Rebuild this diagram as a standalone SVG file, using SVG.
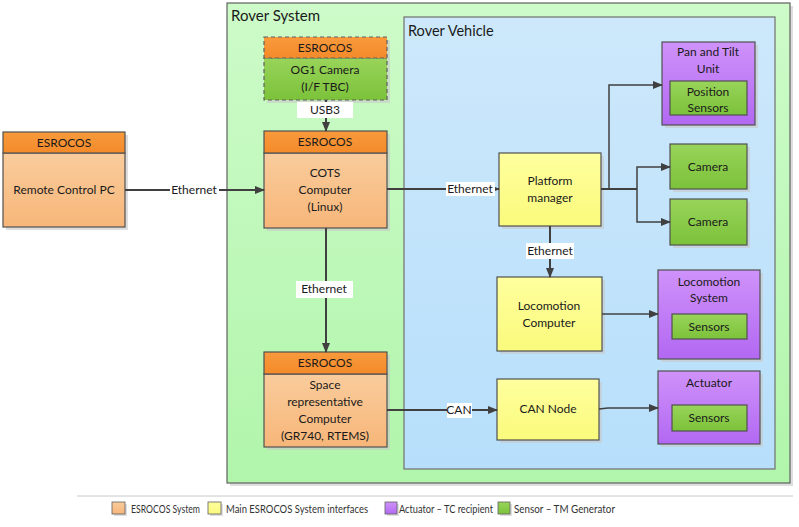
<svg xmlns="http://www.w3.org/2000/svg" width="799" height="527" viewBox="0 0 799 527">
<style>
text{font-family:Lato,"Liberation Sans",sans-serif;fill:#1a1a1a;text-anchor:middle}
.t{font-size:12px}
.title{font-size:15px;text-anchor:start}
.box{stroke:#505050;stroke-width:1.2}
.sh{fill:#c8c8c8;opacity:0.6}
.conn{stroke:#404040;stroke-width:2;fill:none}
.thin{stroke:#404040;stroke-width:1.5;fill:none}
.lbl{fill:#fff}
.leg{font-size:10.5px;text-anchor:start;fill:#333}
</style>
<defs>
<linearGradient id="gSys" x1="0" y1="0" x2="0" y2="1"><stop offset="0" stop-color="#cdfbc9"/><stop offset="1" stop-color="#b1f5ab"/></linearGradient>
<linearGradient id="gVeh" x1="0" y1="0" x2="0" y2="1"><stop offset="0" stop-color="#cde8fb"/><stop offset="1" stop-color="#b7dffb"/></linearGradient>
<linearGradient id="gHdr" x1="0" y1="0" x2="0" y2="1"><stop offset="0" stop-color="#f89a3c"/><stop offset="1" stop-color="#f48a2a"/></linearGradient>
<linearGradient id="gOr" x1="0" y1="0" x2="0" y2="1"><stop offset="0" stop-color="#f9cc9c"/><stop offset="1" stop-color="#f7b679"/></linearGradient>
<linearGradient id="gYe" x1="0" y1="0" x2="0" y2="1"><stop offset="0" stop-color="#ffff9e"/><stop offset="1" stop-color="#fafa7c"/></linearGradient>
<linearGradient id="gPu" x1="0" y1="0" x2="0" y2="1"><stop offset="0" stop-color="#cf92fa"/><stop offset="1" stop-color="#b268f2"/></linearGradient>
<linearGradient id="gGr" x1="0" y1="0" x2="0" y2="1"><stop offset="0" stop-color="#98d45a"/><stop offset="1" stop-color="#7cc23a"/></linearGradient>
<marker id="arr" markerWidth="10" markerHeight="10" refX="9" refY="5" orient="auto" markerUnits="userSpaceOnUse"><path d="M0,1 L10,5 L0,9 Z" fill="#404040"/></marker>
</defs>

<g id="rover-system">
<rect class="sh" x="230" y="6" width="563" height="480"/>
<rect x="227" y="3" width="563" height="480" fill="url(#gSys)" stroke="#606060" stroke-width="1.2"/>
<text class="title" x="231" y="21">Rover System</text>
</g>
<g id="rover-vehicle">
<rect x="404" y="17" width="371" height="452" fill="url(#gVeh)" stroke="#707070" stroke-width="1.2"/>
<text class="title" x="408" y="36" style="font-size:14.5px">Rover Vehicle</text>
</g>

<g id="remote-pc">
<rect class="sh" x="6" y="135" width="122" height="95"/>
<rect class="box" x="3" y="153" width="122" height="74" fill="url(#gOr)"/>
<rect class="box" x="3" y="132" width="122" height="21" fill="url(#gHdr)"/>
<text class="t" x="64" y="147">ESROCOS</text>
<text class="t" x="64" y="194">Remote Control PC</text>
</g>

<g id="og1-camera">
<rect class="sh" x="267" y="40" width="123" height="63"/>
<rect x="264" y="58" width="123" height="42" fill="url(#gGr)" stroke="#606060" stroke-width="1.2" stroke-dasharray="4,3"/>
<rect x="264" y="37" width="123" height="21" fill="url(#gHdr)" stroke="#606060" stroke-width="1.2" stroke-dasharray="4,3"/>
<text class="t" x="325" y="52">ESROCOS</text>
<text class="t" x="325" y="74">OG1 Camera</text>
<text class="t" x="325" y="91">(I/F TBC)</text>
</g>

<g id="cots">
<rect class="sh" x="267" y="134" width="123" height="97"/>
<rect class="box" x="264" y="153" width="123" height="75" fill="url(#gOr)"/>
<rect class="box" x="264" y="131" width="123" height="22" fill="url(#gHdr)"/>
<text class="t" x="325" y="146">ESROCOS</text>
<text class="t" x="325" y="177">COTS</text>
<text class="t" x="325" y="194">Computer</text>
<text class="t" x="325" y="211">(Linux)</text>
</g>

<g id="space-computer">
<rect class="sh" x="267" y="355" width="123" height="95"/>
<rect class="box" x="264" y="374" width="123" height="73" fill="url(#gOr)"/>
<rect class="box" x="264" y="352" width="123" height="22" fill="url(#gHdr)"/>
<text class="t" x="325" y="367">ESROCOS</text>
<text class="t" x="325" y="389">Space</text>
<text class="t" x="325" y="406">representative</text>
<text class="t" x="325" y="423">Computer</text>
<text class="t" x="325" y="440">(GR740, RTEMS)</text>
</g>

<g id="platform-manager">
<rect class="sh" x="502" y="156" width="102" height="73"/>
<rect class="box" x="499" y="153" width="102" height="73" fill="url(#gYe)"/>
<text class="t" x="550" y="185">Platform</text>
<text class="t" x="550" y="202">manager</text>
</g>

<g id="locomotion-computer">
<rect class="sh" x="500" y="280" width="105" height="74"/>
<rect class="box" x="497" y="277" width="105" height="74" fill="url(#gYe)"/>
<text class="t" x="549" y="310">Locomotion</text>
<text class="t" x="549" y="327">Computer</text>
</g>

<g id="can-node">
<rect class="sh" x="500" y="382" width="102" height="61"/>
<rect class="box" x="497" y="379" width="102" height="61" fill="url(#gYe)"/>
<text class="t" x="548" y="413">CAN Node</text>
</g>

<g id="pan-tilt">
<rect class="sh" x="665" y="45" width="93" height="83"/>
<rect class="box" x="662" y="42" width="93" height="83" fill="url(#gPu)"/>
<text class="t" x="708" y="56">Pan and Tilt</text>
<text class="t" x="708" y="73">Unit</text>
<rect class="box" x="670" y="81" width="77" height="34" fill="url(#gGr)"/>
<text class="t" x="708" y="96">Position</text>
<text class="t" x="708" y="112">Sensors</text>
</g>

<g id="camera-1">
<rect class="sh" x="673" y="147" width="77" height="45"/>
<rect class="box" x="670" y="144" width="77" height="45" fill="url(#gGr)"/>
<text class="t" x="708" y="171">Camera</text>
</g>

<g id="camera-2">
<rect class="sh" x="673" y="202" width="77" height="46"/>
<rect class="box" x="670" y="199" width="77" height="46" fill="url(#gGr)"/>
<text class="t" x="708" y="226">Camera</text>
</g>

<g id="locomotion-system">
<rect class="sh" x="661" y="273" width="102" height="89"/>
<rect class="box" x="658" y="270" width="102" height="89" fill="url(#gPu)"/>
<text class="t" x="709" y="286">Locomotion</text>
<text class="t" x="709" y="302">System</text>
<rect class="box" x="672" y="314" width="75" height="25" fill="url(#gGr)"/>
<text class="t" x="709" y="331">Sensors</text>
</g>

<g id="actuator">
<rect class="sh" x="661" y="374" width="102" height="73"/>
<rect class="box" x="658" y="371" width="102" height="73" fill="url(#gPu)"/>
<text class="t" x="709" y="387">Actuator</text>
<rect class="box" x="672" y="405" width="75" height="26" fill="url(#gGr)"/>
<text class="t" x="709" y="422">Sensors</text>
</g>

<g id="connectors">
<path class="conn" d="M125,190 H264" marker-end="url(#arr)"/>
<rect class="lbl" x="170" y="183" width="49" height="14"/>
<text class="t" x="194" y="194">Ethernet</text>

<path class="conn" d="M326,100 V131" marker-end="url(#arr)"/>
<rect class="lbl" x="297" y="102" width="56" height="16"/>
<text class="t" x="325" y="114">USB3</text>

<path class="conn" d="M387,189 H499" marker-end="url(#arr)"/>
<rect class="lbl" x="446" y="182" width="49" height="14"/>
<text class="t" x="470" y="193">Ethernet</text>

<path class="conn" d="M326,228 V352" marker-end="url(#arr)"/>
<rect class="lbl" x="296" y="281" width="57" height="17"/>
<text class="t" x="324" y="293">Ethernet</text>

<path class="conn" d="M387,410 H497" marker-end="url(#arr)"/>
<rect class="lbl" x="447" y="403" width="25" height="15"/>
<text class="t" x="459" y="414">CAN</text>

<path class="conn" d="M550,226 V277" marker-end="url(#arr)"/>
<rect class="lbl" x="526" y="243" width="48" height="16"/>
<text class="t" x="550" y="255">Ethernet</text>

<path class="conn" d="M601,189 H637"/>
<path class="thin" d="M609,189 V85 H662" marker-end="url(#arr)"/>
<path class="thin" d="M637,189 V167 H670" marker-end="url(#arr)"/>
<path class="thin" d="M637,189 V222 H670" marker-end="url(#arr)"/>

<path class="thin" d="M602,314 H658" marker-end="url(#arr)"/>
<path class="thin" d="M599,409 L608,408 H658" marker-end="url(#arr)"/>
</g>

<g id="legend">
<line x1="77" y1="496" x2="793" y2="496" stroke="#c8c8c8" stroke-width="1"/>
<rect class="sh" x="114" y="504" width="13" height="12"/>
<rect x="112" y="502" width="13" height="12" fill="url(#gOr)" stroke="#606060" stroke-width="0.8"/>
<text class="leg" x="131" y="513" textLength="69" lengthAdjust="spacingAndGlyphs">ESROCOS System</text>
<rect class="sh" x="210" y="504" width="13" height="12"/>
<rect x="208" y="502" width="13" height="12" fill="url(#gYe)" stroke="#606060" stroke-width="0.8"/>
<text class="leg" x="226" y="513" textLength="142" lengthAdjust="spacingAndGlyphs">Main ESROCOS System interfaces</text>
<rect class="sh" x="387" y="504" width="12" height="12"/>
<rect x="385" y="502" width="12" height="12" fill="url(#gPu)" stroke="#606060" stroke-width="0.8"/>
<text class="leg" x="399" y="513" textLength="94" lengthAdjust="spacingAndGlyphs">Actuator – TC recipient</text>
<rect class="sh" x="500" y="504" width="12" height="12"/>
<rect x="498" y="502" width="12" height="12" fill="url(#gGr)" stroke="#606060" stroke-width="0.8"/>
<text class="leg" x="514" y="513" textLength="101" lengthAdjust="spacingAndGlyphs">Sensor – TM Generator</text>
</g>
</svg>
